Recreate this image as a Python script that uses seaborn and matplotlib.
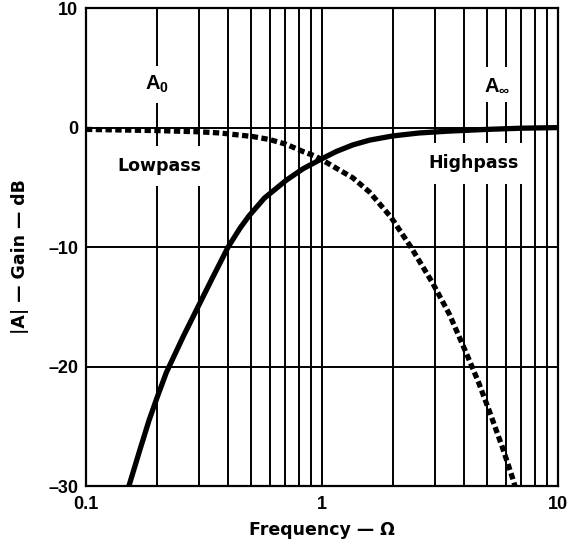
import numpy as np
import pandas as pd
import matplotlib
matplotlib.use('Agg')
import matplotlib.pyplot as plt
import seaborn as sns

# Curves (frequency, gain in dB)
hp_freq = [0.152, 0.169, 0.185, 0.2, 0.219, 0.258, 0.3, 0.345, 0.4, 0.45, 0.49, 0.57, 0.706, 0.83,
           1.0, 1.15, 1.35, 1.59, 1.99, 2.58, 3.4, 5.0, 7.0, 10.0]
hp_gain = [-30.0, -27.0, -24.5, -22.6, -20.5, -17.5, -14.9, -12.5, -10.0, -8.4, -7.4, -5.9, -4.4, -3.45,
           -2.6, -2.0, -1.45, -1.05, -0.7, -0.45, -0.3, -0.15, -0.05, 0.0]

lp_freq = [0.1, 0.2, 0.3, 0.37, 0.51, 0.6, 0.706, 0.83, 0.94, 1.0, 1.15, 1.35, 1.59, 1.96,
           2.38, 2.94, 3.46, 4.07, 4.6, 5.11, 5.82, 6.41, 6.57]
lp_gain = [-0.15, -0.25, -0.35, -0.45, -0.75, -1.0, -1.4, -2.0, -2.4, -2.7, -3.4, -4.2, -5.4, -7.5,
           -10.0, -13.0, -15.6, -18.8, -21.3, -23.7, -26.8, -29.3, -30.0]

y_ticks = [10, 0, -10, -20, -30]
y_tick_labels = ['10', '0', '\u201310', '\u201320', '\u201330']
x_ticks = [0.1, 1, 10]
x_tick_labels = ['0.1', '1', '10']

sns.set_style('white')
plt.rcParams['font.family'] = ['Liberation Sans', 'DejaVu Sans']
plt.rcParams['mathtext.fontset'] = 'custom'
plt.rcParams['mathtext.bf'] = 'Liberation Sans:bold'
plt.rcParams['mathtext.rm'] = 'Liberation Sans'
plt.rcParams['text.color'] = 'black'
plt.rcParams['axes.labelcolor'] = 'black'
plt.rcParams['xtick.color'] = 'black'
plt.rcParams['ytick.color'] = 'black'

fig = plt.figure(figsize=(5.71, 5.42), dpi=100)
ax = fig.add_axes([0.1506, 0.1033, 0.8267, 0.8817])

df_hp = pd.DataFrame({'freq': hp_freq, 'gain': hp_gain})
df_lp = pd.DataFrame({'freq': lp_freq, 'gain': lp_gain})

sns.lineplot(data=df_hp, x='freq', y='gain', ax=ax, color='black', lw=3.8,
             solid_capstyle='round', solid_joinstyle='round', zorder=4)
sns.lineplot(data=df_lp, x='freq', y='gain', ax=ax, color='black', lw=3.8,
             linestyle=(0, (1.2, 0.65)), dash_capstyle='butt', zorder=4)

ax.set_xscale('log')
ax.set_xlim(0.1, 10)
ax.set_ylim(-30, 10)

ax.set_xticks(x_ticks)
ax.set_xticklabels(x_tick_labels)
ax.set_yticks(y_ticks)
ax.set_yticklabels(y_tick_labels)
ax.tick_params(axis='both', which='both', length=0, labelsize=13, colors='black')
ax.tick_params(axis='y', pad=5.5)
ax.tick_params(axis='x', pad=7)
for lbl in ax.get_xticklabels() + ax.get_yticklabels():
    lbl.set_fontweight('bold')

ax.grid(True, which='both', axis='x', color='black', lw=1.4)
ax.grid(True, which='major', axis='y', color='black', lw=1.4)
ax.set_axisbelow(True)
for s in ax.spines.values():
    s.set_color('black')
    s.set_linewidth(1.6)

word_font = ['DejaVu Sans']
ax.set_xlabel('Frequency \u2014 \u03a9', fontsize=12.5, fontweight='bold', family=word_font, labelpad=6)
ax.set_ylabel('|A| \u2014 Gain \u2014 dB', fontsize=12.5, fontweight='bold', family=word_font, labelpad=12)
ax.yaxis.set_label_coords(-0.12, 0.48)

box = dict(facecolor='white', edgecolor='none', pad=6)
ax.text(0.2, 3.6, r'$\mathbf{A_0}$', fontsize=14.5, ha='center', va='center', bbox=box, zorder=3)
ax.text(5.5, 3.6, r'$\mathbf{A_\infty}$', fontsize=14.5, ha='center', va='center', bbox=box, zorder=3)
ax.text(0.205, -3.2, 'Lowpass', fontsize=12.5, fontweight='bold', family=word_font,
        ha='center', va='center', bbox=dict(facecolor='white', edgecolor='none', pad=8), zorder=3)
ax.text(4.4, -3.0, 'Highpass', fontsize=12.5, fontweight='bold', family=word_font,
        ha='center', va='center', bbox=dict(facecolor='white', edgecolor='none', pad=8), zorder=3)

fig.savefig('out.png', dpi=100)
